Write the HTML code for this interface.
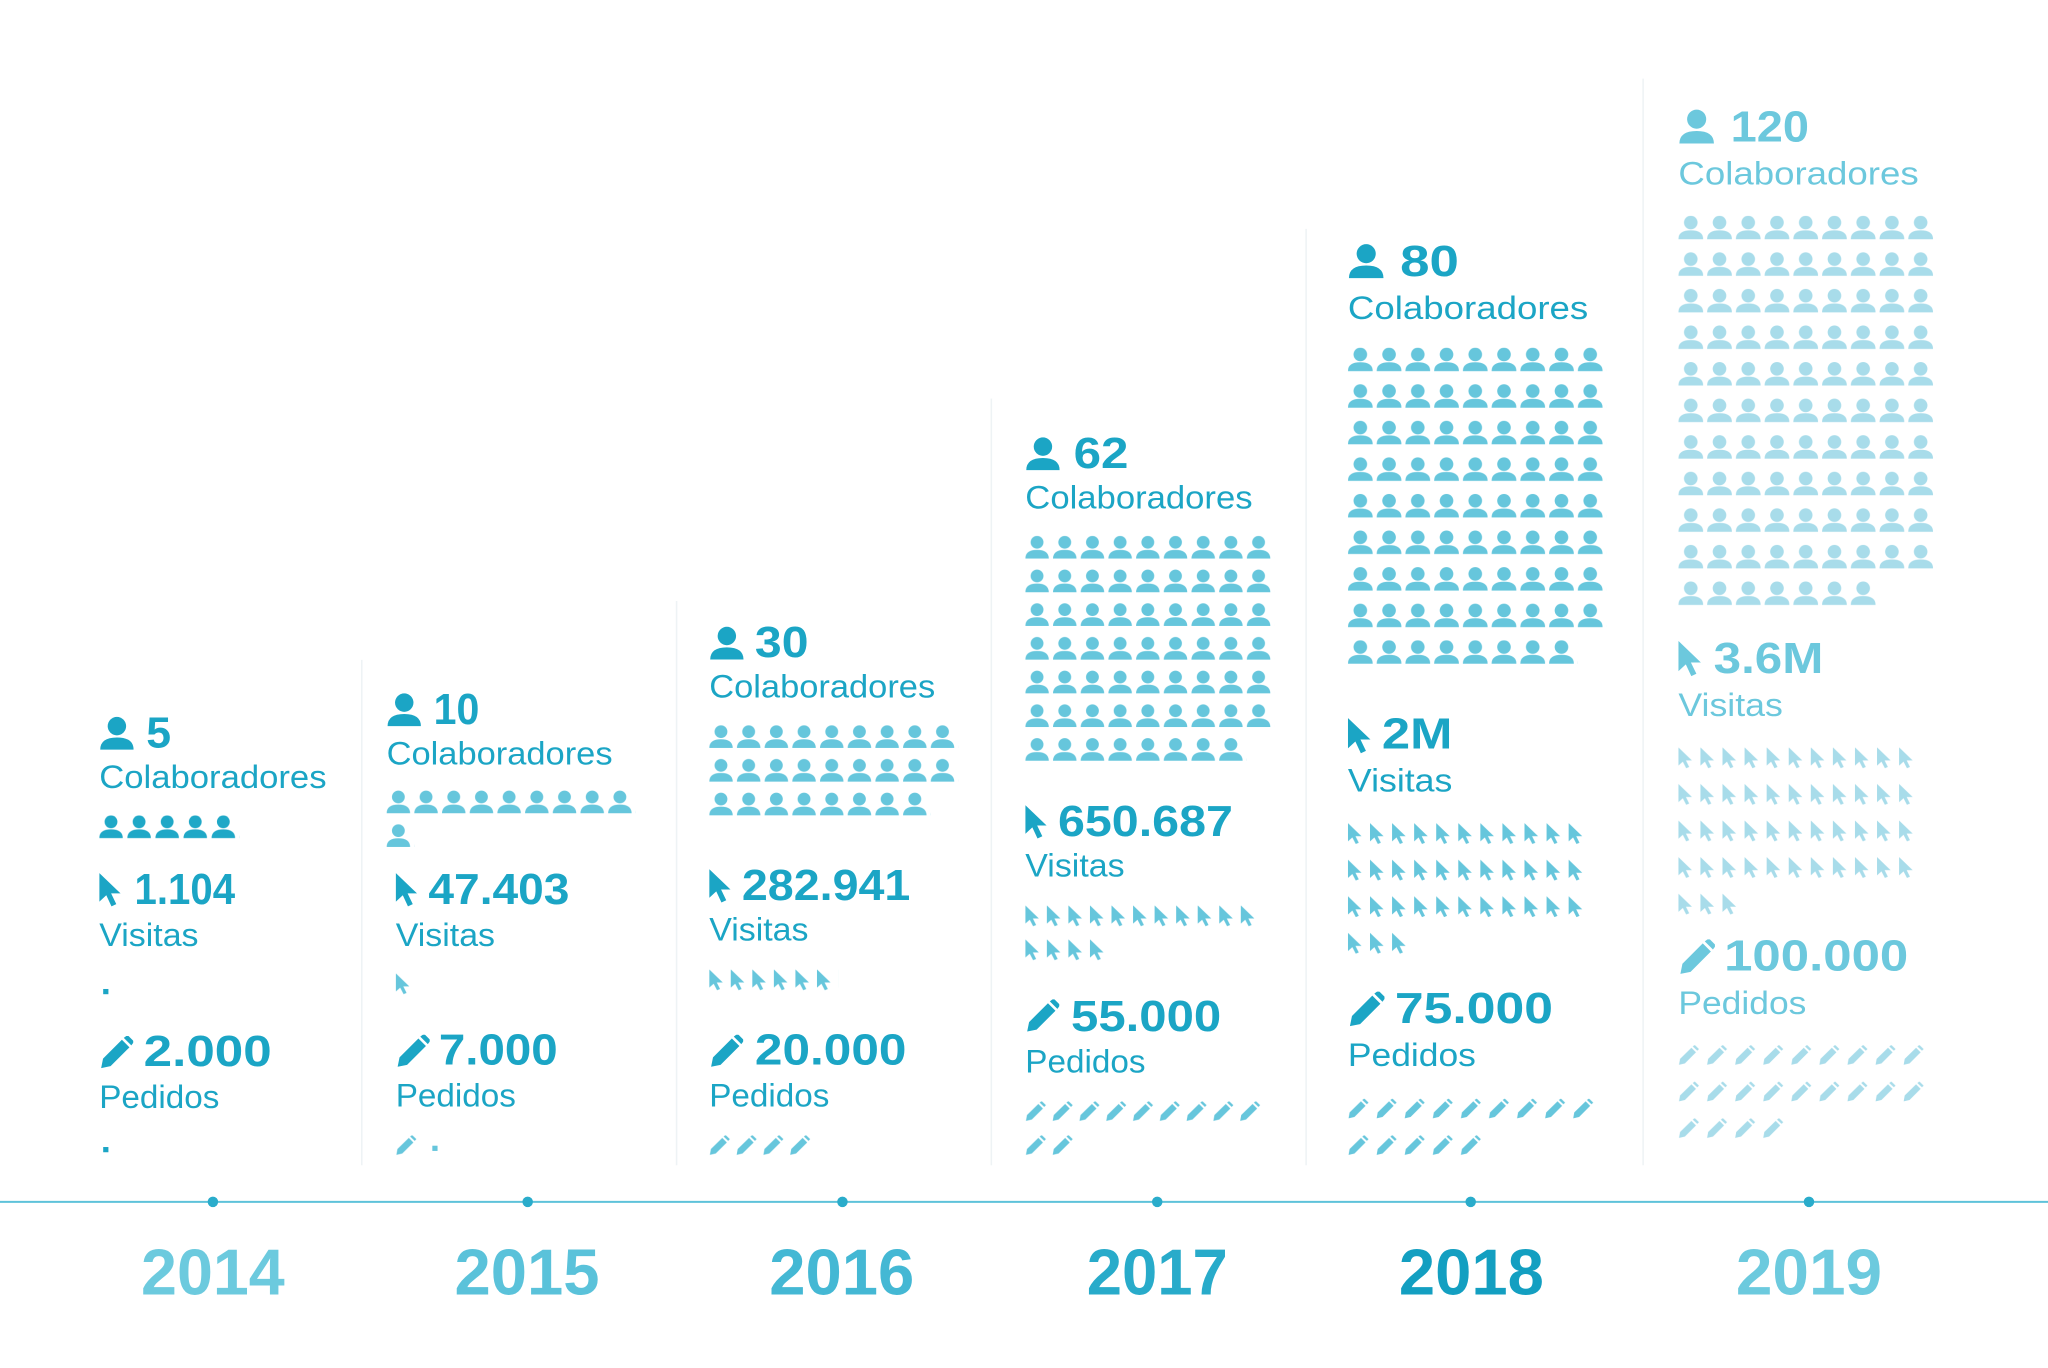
<!DOCTYPE html>
<html><head><meta charset="utf-8"><style>
html,body{margin:0;padding:0;background:#fff;}
svg{display:block}
text{font-family:"Liberation Sans",sans-serif;}
.n{font-weight:bold;font-size:33px;}
.l{font-size:25px;}
.y{font-weight:bold;font-size:50px;}
</style></head><body>
<svg width="2048" height="1368" viewBox="0 0 1568 1047" xmlns="http://www.w3.org/2000/svg">
<defs>
<symbol id="sp" viewBox="0 0 18 17"><circle cx="9" cy="5" r="4.7"/><path d="M0.5 17 Q0.5 10.8 9 10.8 Q17.5 10.8 17.5 17 Z"/></symbol>
<symbol id="sc" viewBox="0 0 12 18"><path d="M0 0 L0 15.5 L3.8 12 L6.6 18 L9.2 16.8 L6.4 11 L11.5 11 Z"/></symbol>
<symbol id="sn" viewBox="0 0 18 18"><path d="M1 17 L2 12 L12 2 L16 6 L6 16 Z M13 1 L15 -0.5 L18.5 3 L17 5 Z"/></symbol>

<pattern id="pB26" patternUnits="userSpaceOnUse" width="21.2" height="25.8"><g fill="#66c6dc"><circle cx="9" cy="5" r="4.9"/><path d="M0 17.5 Q0 10.8 9 10.8 Q18 10.8 18 17.5 Z"/></g></pattern>
<pattern id="pB28" patternUnits="userSpaceOnUse" width="22" height="28"><g fill="#66c6dc"><circle cx="9.5" cy="5.2" r="5.2"/><path d="M0 18 Q0 11.2 9.5 11.2 Q19 11.2 19 18 Z"/></g></pattern>
<pattern id="pC28" patternUnits="userSpaceOnUse" width="22" height="28"><g fill="#a8dcea"><circle cx="9.5" cy="5.2" r="5.2"/><path d="M0 18 Q0 11.2 9.5 11.2 Q19 11.2 19 18 Z"/></g></pattern>
<pattern id="pA" patternUnits="userSpaceOnUse" width="21.5" height="26"><g fill="#1fa8c7"><circle cx="9" cy="5" r="4.9"/><path d="M0 17.5 Q0 10.8 9 10.8 Q18 10.8 18 17.5 Z"/></g></pattern>

<pattern id="cB26" patternUnits="userSpaceOnUse" width="16.5" height="26"><path fill="#66c6dc" d="M0 0 L0 14 L3.4 11 L6 16 L8.3 15 L5.8 10 L10.4 10 Z"/></pattern>
<pattern id="cB28" patternUnits="userSpaceOnUse" width="16.9" height="28"><path fill="#66c6dc" d="M0 0 L0 14 L3.4 11 L6 16 L8.3 15 L5.8 10 L10.4 10 Z"/></pattern>
<pattern id="cC28" patternUnits="userSpaceOnUse" width="16.9" height="28"><path fill="#a8dcea" d="M0 0 L0 14 L3.4 11 L6 16 L8.3 15 L5.8 10 L10.4 10 Z"/></pattern>

<pattern id="nB26" patternUnits="userSpaceOnUse" width="20.5" height="26"><path fill="#66c6dc" d="M0.5 15 L1.3 10.5 L10 2 L13.5 5.5 L5 14 Z M11 1 L12.5 -0.2 L15.8 3 L14.5 4.3 Z"/></pattern>
<pattern id="nB28" patternUnits="userSpaceOnUse" width="21.5" height="28"><path fill="#66c6dc" d="M0.5 15 L1.3 10.5 L10 2 L13.5 5.5 L5 14 Z M11 1 L12.5 -0.2 L15.8 3 L14.5 4.3 Z"/></pattern>
<pattern id="nC28" patternUnits="userSpaceOnUse" width="21.5" height="28"><path fill="#a8dcea" d="M0.5 15 L1.3 10.5 L10 2 L13.5 5.5 L5 14 Z M11 1 L12.5 -0.2 L15.8 3 L14.5 4.3 Z"/></pattern>
</defs>

<g stroke="#eef3f5" stroke-width="1.2">
<line x1="277" y1="505" x2="277" y2="892"/>
<line x1="518" y1="460" x2="518" y2="892"/>
<line x1="759" y1="305" x2="759" y2="892"/>
<line x1="1000" y1="175" x2="1000" y2="892"/>
<line x1="1258" y1="60" x2="1258" y2="892"/>
</g>

<line x1="0" y1="920" x2="1568" y2="920" stroke="#5ec2da" stroke-width="1.6"/>
<g fill="#2aaccb">
<circle cx="163" cy="920" r="4"/><circle cx="404" cy="920" r="4"/><circle cx="645" cy="920" r="4"/>
<circle cx="886" cy="920" r="4"/><circle cx="1126" cy="920" r="4"/><circle cx="1385" cy="920" r="4"/>
</g>
<text class="y" x="108" y="991" textLength="110" lengthAdjust="spacingAndGlyphs" fill="#6ccade">2014</text>
<text class="y" x="348" y="991" textLength="111" lengthAdjust="spacingAndGlyphs" fill="#5ac2da">2015</text>
<text class="y" x="589" y="991" textLength="111" lengthAdjust="spacingAndGlyphs" fill="#44b8d4">2016</text>
<text class="y" x="832" y="991" textLength="108" lengthAdjust="spacingAndGlyphs" fill="#28abca">2017</text>
<text class="y" x="1071" y="991" textLength="111" lengthAdjust="spacingAndGlyphs" fill="#139fc1">2018</text>
<text class="y" x="1329" y="991" textLength="112" lengthAdjust="spacingAndGlyphs" fill="#6ccade">2019</text>

<!-- 2014 -->
<g fill="#1ba5c5">
<use href="#sp" x="76" y="548" width="27" height="26"/>
<text class="n" x="112" y="572" textLength="19" lengthAdjust="spacingAndGlyphs">5</text>
<text class="l" x="76" y="603" textLength="174" lengthAdjust="spacingAndGlyphs">Colaboradores</text>
<use href="#sc" x="76" y="668" width="17" height="26"/>
<text class="n" x="103" y="692" textLength="77" lengthAdjust="spacingAndGlyphs">1.104</text>
<text class="l" x="76" y="724" textLength="76" lengthAdjust="spacingAndGlyphs">Visitas</text>
<rect x="79" y="757" width="4" height="4"/>
<use href="#sn" x="76" y="793" width="26" height="26"/>
<text class="n" x="110" y="816" textLength="98" lengthAdjust="spacingAndGlyphs">2.000</text>
<text class="l" x="76" y="848" textLength="92" lengthAdjust="spacingAndGlyphs">Pedidos</text>
<rect x="79" y="878" width="4" height="4"/>
</g>
<g transform="translate(76,624)"><rect width="107.5" height="18" fill="url(#pA)"/></g>

<!-- 2015 -->
<g fill="#1ba5c5">
<use href="#sp" x="296" y="530" width="27" height="26"/>
<text class="n" x="332" y="554" textLength="35" lengthAdjust="spacingAndGlyphs">10</text>
<text class="l" x="296" y="585" textLength="173" lengthAdjust="spacingAndGlyphs">Colaboradores</text>
<use href="#sc" x="303" y="668" width="17" height="26"/>
<text class="n" x="328" y="692" textLength="108" lengthAdjust="spacingAndGlyphs">47.403</text>
<text class="l" x="303" y="724" textLength="76" lengthAdjust="spacingAndGlyphs">Visitas</text>
<use href="#sn" x="303" y="792" width="26" height="26"/>
<text class="n" x="336" y="815" textLength="91" lengthAdjust="spacingAndGlyphs">7.000</text>
<text class="l" x="303" y="847" textLength="92" lengthAdjust="spacingAndGlyphs">Pedidos</text>
</g>
<g transform="translate(296,605)"><rect width="190.8" height="18" fill="url(#pB26)"/><rect y="25.8" width="21.2" height="18" fill="url(#pB26)"/></g>
<g transform="translate(303,745)"><rect width="16" height="18" fill="url(#cB26)"/></g>
<g transform="translate(303,869)"><rect width="20" height="18" fill="url(#nB26)"/></g>
<rect x="331" y="877" width="4" height="4" fill="#66c6dc"/>

<!-- 2016 -->
<g fill="#1ba5c5">
<use href="#sp" x="543" y="479" width="27" height="26"/>
<text class="n" x="578" y="503" textLength="41" lengthAdjust="spacingAndGlyphs">30</text>
<text class="l" x="543" y="534" textLength="173" lengthAdjust="spacingAndGlyphs">Colaboradores</text>
<use href="#sc" x="543" y="665" width="17" height="26"/>
<text class="n" x="568" y="689" textLength="129" lengthAdjust="spacingAndGlyphs">282.941</text>
<text class="l" x="543" y="720" textLength="76" lengthAdjust="spacingAndGlyphs">Visitas</text>
<use href="#sn" x="543" y="792" width="26" height="26"/>
<text class="n" x="578" y="815" textLength="116" lengthAdjust="spacingAndGlyphs">20.000</text>
<text class="l" x="543" y="847" textLength="92" lengthAdjust="spacingAndGlyphs">Pedidos</text>
</g>
<g transform="translate(543,555)"><rect width="190.8" height="44" fill="url(#pB26)"/><rect y="51.6" width="169.6" height="18" fill="url(#pB26)"/></g>
<g transform="translate(543,742)"><rect width="99" height="18" fill="url(#cB26)"/></g>
<g transform="translate(543,869)"><rect width="82" height="18" fill="url(#nB26)"/></g>

<!-- 2017 -->
<g fill="#1ba5c5">
<use href="#sp" x="785" y="334" width="27" height="26"/>
<text class="n" x="822" y="358" textLength="42" lengthAdjust="spacingAndGlyphs">62</text>
<text class="l" x="785" y="389" textLength="174" lengthAdjust="spacingAndGlyphs">Colaboradores</text>
<use href="#sc" x="785" y="616" width="17" height="26"/>
<text class="n" x="810" y="640" textLength="134" lengthAdjust="spacingAndGlyphs">650.687</text>
<text class="l" x="785" y="671" textLength="76" lengthAdjust="spacingAndGlyphs">Visitas</text>
<use href="#sn" x="785" y="765" width="26" height="26"/>
<text class="n" x="820" y="789" textLength="115" lengthAdjust="spacingAndGlyphs">55.000</text>
<text class="l" x="785" y="821" textLength="92" lengthAdjust="spacingAndGlyphs">Pedidos</text>
</g>
<g transform="translate(785,410)"><rect width="190.8" height="147" fill="url(#pB26)"/><rect y="154.8" width="169.6" height="18" fill="url(#pB26)"/></g>
<g transform="translate(785,693)"><rect width="178" height="18" fill="url(#cB26)"/><rect y="26" width="64" height="18" fill="url(#cB26)"/></g>
<g transform="translate(785,843)"><rect width="184.5" height="18" fill="url(#nB26)"/><rect y="26" width="41" height="18" fill="url(#nB26)"/></g>

<!-- 2018 -->
<g fill="#1ba5c5">
<use href="#sp" x="1032" y="186" width="28" height="27"/>
<text class="n" x="1072" y="211" textLength="45" lengthAdjust="spacingAndGlyphs">80</text>
<text class="l" x="1032" y="244" textLength="184" lengthAdjust="spacingAndGlyphs">Colaboradores</text>
<use href="#sc" x="1032" y="549" width="18" height="28"/>
<text class="n" x="1058" y="573" textLength="54" lengthAdjust="spacingAndGlyphs">2M</text>
<text class="l" x="1032" y="606" textLength="80" lengthAdjust="spacingAndGlyphs">Visitas</text>
<use href="#sn" x="1032" y="759" width="28" height="28"/>
<text class="n" x="1068" y="783" textLength="121" lengthAdjust="spacingAndGlyphs">75.000</text>
<text class="l" x="1032" y="816" textLength="98" lengthAdjust="spacingAndGlyphs">Pedidos</text>
</g>
<g transform="translate(1032,266)"><rect width="198" height="220" fill="url(#pB28)"/><rect y="224" width="176" height="19" fill="url(#pB28)"/></g>
<g transform="translate(1032,630)"><rect width="182" height="74" fill="url(#cB28)"/><rect y="84" width="48" height="18" fill="url(#cB28)"/></g>
<g transform="translate(1032,841)"><rect width="193.5" height="18" fill="url(#nB28)"/><rect y="28" width="107.5" height="18" fill="url(#nB28)"/></g>

<!-- 2019 -->
<g fill="#6cc8dd">
<use href="#sp" x="1285" y="83" width="28" height="27"/>
<text class="n" x="1325" y="108" textLength="60" lengthAdjust="spacingAndGlyphs">120</text>
<text class="l" x="1285" y="141" textLength="184" lengthAdjust="spacingAndGlyphs">Colaboradores</text>
<use href="#sc" x="1285" y="490" width="18" height="28"/>
<text class="n" x="1312" y="515" textLength="84" lengthAdjust="spacingAndGlyphs">3.6M</text>
<text class="l" x="1285" y="548" textLength="80" lengthAdjust="spacingAndGlyphs">Visitas</text>
<use href="#sn" x="1285" y="719" width="28" height="28"/>
<text class="n" x="1320" y="743" textLength="141" lengthAdjust="spacingAndGlyphs">100.000</text>
<text class="l" x="1285" y="776" textLength="98" lengthAdjust="spacingAndGlyphs">Pedidos</text>
</g>
<g transform="translate(1285,165)"><rect width="198" height="276" fill="url(#pC28)"/><rect y="280" width="154" height="19" fill="url(#pC28)"/></g>
<g transform="translate(1285,572)"><rect width="182" height="102" fill="url(#cC28)"/><rect y="112" width="48" height="18" fill="url(#cC28)"/></g>
<g transform="translate(1285,800)"><rect width="193.5" height="46" fill="url(#nC28)"/><rect y="56" width="86" height="18" fill="url(#nC28)"/></g>
</svg>
</body></html>
